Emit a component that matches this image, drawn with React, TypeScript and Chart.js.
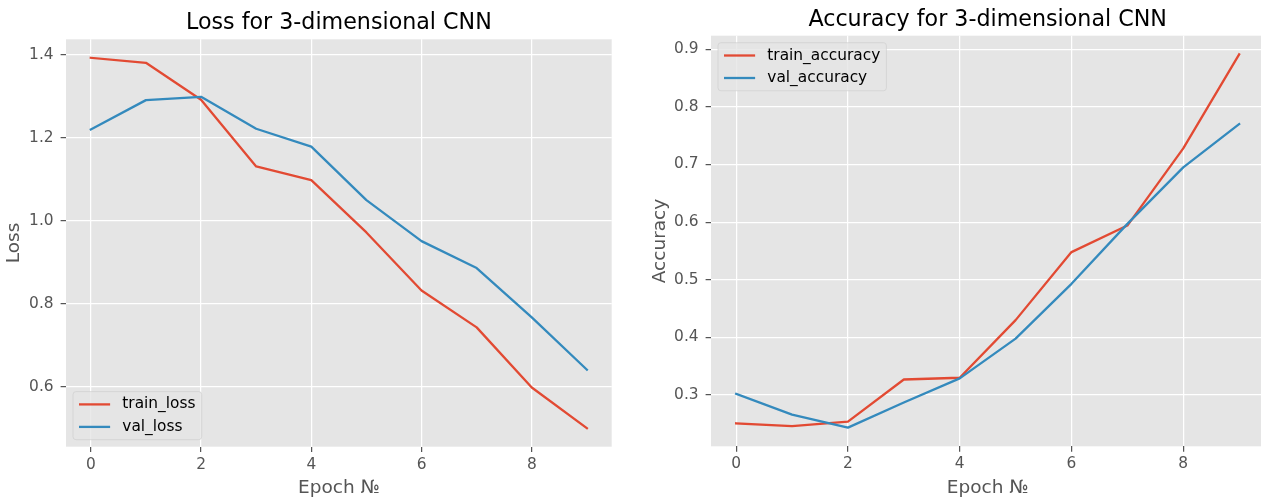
import React, { useEffect, useRef } from "react";
import { Chart, registerables } from "chart.js";

Chart.register(...registerables);

// ---------------- data ----------------
const epochs = [0, 1, 2, 3, 4, 5, 6, 7, 8, 9];
const trainLoss = [1.393, 1.381, 1.292, 1.131, 1.098, 0.972, 0.832, 0.743, 0.598, 0.5];
const valLoss = [1.22, 1.291, 1.299, 1.222, 1.179, 1.05, 0.951, 0.886, 0.767, 0.641];
const trainAccuracy = [0.251, 0.246, 0.254, 0.327, 0.33, 0.43, 0.548, 0.594, 0.728, 0.891];
const valAccuracy = [0.302, 0.266, 0.2435, 0.287, 0.329, 0.398, 0.493, 0.597, 0.695, 0.77];
const xTickValues = [0, 2, 4, 6, 8];
const lossTickValues = [0.6, 0.8, 1.0, 1.2, 1.4];
const accuracyTickValues = [0.3, 0.4, 0.5, 0.6, 0.7, 0.8, 0.9];

// ---------------- style ----------------
const RED = "#E24A33";
const BLUE = "#348ABD";
const FONT = "'DejaVu Sans', sans-serif";
const TICK_PX = 15.4;
const LABEL_PX = 18.5;
const TITLE_PX = 22.2;
const LINE_W = 2.3;
const GRID_W = 1.23;

function paddedRange(values: number[], margin = 0.05): [number, number] {
  const lo = Math.min(...values);
  const hi = Math.max(...values);
  const pad = (hi - lo) * margin;
  return [lo - pad, hi + pad];
}

const mplPlugin = {
  id: "mpl",
  beforeDraw(chart: any) {
    const { ctx, chartArea: a } = chart;
    ctx.save();
    ctx.fillStyle = "#E5E5E5";
    ctx.fillRect(a.left, a.top, a.right - a.left, a.bottom - a.top);
    ctx.restore();
  },
  afterDraw(chart: any, _args: any, opts: any) {
    const { ctx, chartArea: a } = chart;
    ctx.save();
    // title
    ctx.font = `${TITLE_PX}px ${FONT}`;
    ctx.fillStyle = "#000000";
    ctx.textAlign = "center";
    ctx.textBaseline = "alphabetic";
    ctx.fillText(opts.title, (a.left + a.right) / 2, a.top - 10);

    // legend (matplotlib-like, inside axes)
    const fs = TICK_PX;
    ctx.font = `${fs}px ${FONT}`;
    const ds = chart.data.datasets;
    const pad = 0.4 * fs;
    const handle = 2 * fs;
    const textPad = 0.8 * fs;
    const rowGap = 22.5;
    const firstRow = 12.8;
    const textW = Math.max(...ds.map((d: any) => ctx.measureText(d.label).width));
    const w = pad * 2 + handle + textPad + textW;
    const h = firstRow * 2 + rowGap * (ds.length - 1);
    const axPad = 7;
    const left = a.left + axPad;
    const top = opts.legendLoc === "lower left" ? a.bottom - axPad - h : a.top + axPad;
    const r = 3;
    ctx.beginPath();
    ctx.moveTo(left + r, top);
    ctx.lineTo(left + w - r, top);
    ctx.arcTo(left + w, top, left + w, top + r, r);
    ctx.lineTo(left + w, top + h - r);
    ctx.arcTo(left + w, top + h, left + w - r, top + h, r);
    ctx.lineTo(left + r, top + h);
    ctx.arcTo(left, top + h, left, top + h - r, r);
    ctx.lineTo(left, top + r);
    ctx.arcTo(left, top, left + r, top, r);
    ctx.closePath();
    ctx.fillStyle = "rgba(229,229,229,0.8)";
    ctx.fill();
    ctx.lineWidth = 0.8;
    ctx.strokeStyle = "rgba(204,204,204,0.8)";
    ctx.stroke();

    ds.forEach((d: any, i: number) => {
      const y = top + firstRow + i * rowGap;
      ctx.beginPath();
      ctx.lineCap = "square";
      ctx.lineWidth = LINE_W;
      ctx.strokeStyle = d.borderColor;
      ctx.moveTo(left + pad + 1, y);
      ctx.lineTo(left + pad + handle - 1, y);
      ctx.stroke();
      ctx.fillStyle = "#000000";
      ctx.textAlign = "left";
      ctx.textBaseline = "middle";
      ctx.fillText(d.label, left + pad + handle + textPad, y);
    });
    ctx.restore();
  },
};

type PanelSpec = {
  title: string;
  yLabel: string;
  train: number[];
  val: number[];
  trainLabel: string;
  valLabel: string;
  yTicks: number[];
  legendLoc: string;
  padTop: number;
  padRight: number;
  yAxisWidth: number;
  xAxisHeight: number;
  yTitlePad: number;
};

function buildConfig(p: PanelSpec): any {
  const [xMin, xMax] = paddedRange(epochs);
  const [yMin, yMax] = paddedRange([...p.train, ...p.val]);
  const line = (label: string, values: number[], color: string, order: number) => ({
    label,
    data: epochs.map((e, i) => ({ x: e, y: values[i] })),
    borderColor: color,
    backgroundColor: color,
    borderWidth: LINE_W,
    pointRadius: 0,
    tension: 0,
    fill: false,
    borderCapStyle: "square",
    borderJoinStyle: "round",
    order,
  });
  return {
    type: "line",
    data: {
      datasets: [line(p.trainLabel, p.train, RED, 1), line(p.valLabel, p.val, BLUE, 0)],
    },
    plugins: [mplPlugin],
    options: {
      animation: false,
      responsive: false,
      events: [],
      layout: { padding: { top: p.padTop, right: p.padRight, left: 0, bottom: 0 } },
      plugins: {
        legend: { display: false },
        tooltip: { enabled: false },
        title: { display: false },
        mpl: { title: p.title, legendLoc: p.legendLoc },
      },
      scales: {
        x: {
          type: "linear",
          min: xMin,
          max: xMax,
          afterBuildTicks: (s: any) => {
            s.ticks = xTickValues.map((v) => ({ value: v }));
          },
          afterFit: (s: any) => {
            s.height = p.xAxisHeight;
          },
          border: { display: false },
          grid: {
            color: "#ffffff",
            lineWidth: GRID_W,
            drawTicks: true,
            tickLength: 5.4,
            tickWidth: GRID_W,
            tickColor: "#555555",
          },
          ticks: {
            autoSkip: false,
            maxRotation: 0,
            color: "#555555",
            padding: 3.4,
            font: { family: FONT, size: TICK_PX, lineHeight: 1.2 },
            callback: (v: any) => String(v),
          },
          title: {
            display: true,
            text: "Epoch №",
            color: "#555555",
            font: { family: FONT, size: LABEL_PX, lineHeight: 1 },
            padding: { top: 0, bottom: 0 },
          },
        },
        y: {
          type: "linear",
          min: yMin,
          max: yMax,
          afterBuildTicks: (s: any) => {
            s.ticks = p.yTicks.map((v) => ({ value: v }));
          },
          afterFit: (s: any) => {
            s.width = p.yAxisWidth;
          },
          border: { display: false },
          grid: {
            color: "#ffffff",
            lineWidth: GRID_W,
            drawTicks: true,
            tickLength: 5.4,
            tickWidth: GRID_W,
            tickColor: "#555555",
          },
          ticks: {
            autoSkip: false,
            color: "#555555",
            padding: 7,
            font: { family: FONT, size: TICK_PX, lineHeight: 1.2 },
            callback: (v: any) => Number(v).toFixed(1),
          },
          title: {
            display: true,
            text: p.yLabel,
            color: "#555555",
            font: { family: FONT, size: LABEL_PX, lineHeight: 1 },
            padding: { top: p.yTitlePad, bottom: 0 },
          },
        },
      },
    },
  };
}

function Panel({ spec, left, width }: { spec: PanelSpec; left: number; width: number }) {
  const ref = useRef<HTMLCanvasElement | null>(null);
  useEffect(() => {
    if (!ref.current) return;
    const chart = new Chart(ref.current, buildConfig(spec));
    return () => chart.destroy();
  }, [spec]);
  return (
    <canvas
      ref={ref}
      width={width}
      height={497}
      style={{ position: "absolute", left, top: 0, width, height: 497 }}
    />
  );
}

const lossSpec: PanelSpec = {
  title: "Loss for 3-dimensional CNN",
  yLabel: "Loss",
  train: trainLoss,
  val: valLoss,
  trainLabel: "train_loss",
  valLabel: "val_loss",
  yTicks: lossTickValues,
  legendLoc: "lower left",
  padTop: 39.3,
  padRight: 640 - 611.7,
  yAxisWidth: 66,
  xAxisHeight: 497 - 446.7,
  yTitlePad: 5,
};

const accSpec: PanelSpec = {
  title: "Accuracy for 3-dimensional CNN",
  yLabel: "Accuracy",
  train: trainAccuracy,
  val: valAccuracy,
  trainLabel: "train_accuracy",
  valLabel: "val_accuracy",
  yTicks: accuracyTickValues,
  legendLoc: "upper left",
  padTop: 35.7,
  padRight: 640 - 634.3,
  yAxisWidth: 81,
  xAxisHeight: 497 - 446.3,
  yTitlePad: 20.75,
};

export default function App() {
  return (
    <div
      style={{
        position: "fixed",
        left: 0,
        top: 0,
        width: 1261,
        height: 497,
        overflow: "hidden",
        background: "#ffffff",
      }}
    >
      <Panel spec={lossSpec} left={0} width={640} />
      <Panel spec={accSpec} left={630} width={640} />
    </div>
  );
}
